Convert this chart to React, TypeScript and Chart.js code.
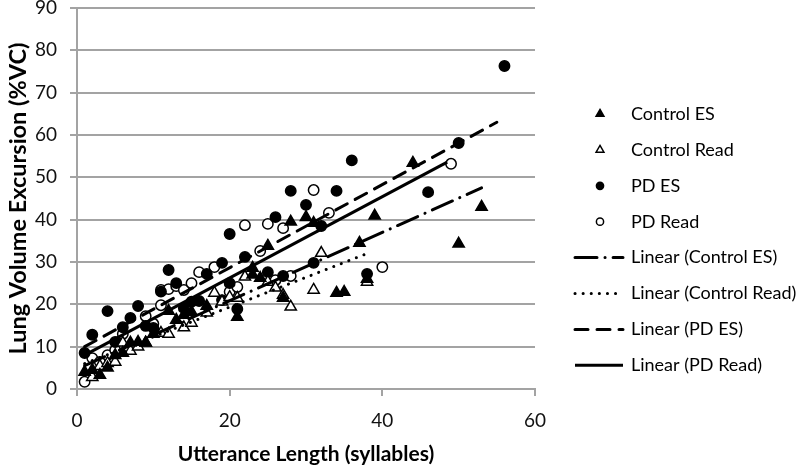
import React, { useEffect, useRef } from "react";
import { Chart, registerables } from "chart.js";
Chart.register(...registerables);

// ---- data (x = utterance length in syllables, y = %VC) ----
const controlES: [number, number][] = [
  [1, 4], [2, 4.5], [3, 3.3], [4, 5], [5, 8], [6, 8.5], [7, 10.9], [8, 11.1], [9, 10.9],
  [10, 13], [12, 18.4], [13, 16.3], [14, 17.5], [15, 18.2], [17, 19.6], [21, 17],
  [23, 28.6], [23, 27], [24, 26.2], [25, 33.8], [27, 21.5], [28, 39.5], [30, 40.6],
  [31, 39.2], [34, 22.7], [35, 22.9], [37, 34.5], [38, 26], [39, 40.9], [44, 53.4],
  [50, 34.3], [53, 43],
];
const controlRead: [number, number][] = [
  [2, 2.8], [3, 5.4], [4, 6.1], [5, 6.4], [6, 10.9], [7, 9], [8, 10], [9, 10.9],
  [11, 13.2], [12, 13], [14, 14.5], [15, 15.6], [17, 18], [18, 22.7], [19, 20.6],
  [20, 21.7], [21, 21.5], [22, 26.5], [25, 25.3], [26, 23.9], [27, 22.2], [28, 19.4],
  [31, 23.4], [32, 32.1], [38, 25.3],
];
const pdES: [number, number][] = [
  [1, 8.5], [2, 12.8], [4, 18.4], [5, 11.1], [6, 14.6], [7, 16.8], [8, 19.6], [9, 14.9],
  [10, 14.4], [11, 23], [12, 28.1], [13, 25], [14, 19.1], [15, 20.6], [16, 20.8],
  [17, 27.2], [19, 29.8], [19, 21], [20, 25], [20, 36.6], [21, 18.9], [22, 31.2],
  [25, 27.6], [26, 40.6], [27, 26.7], [28, 46.8], [30, 43.5], [31, 29.8], [32, 38.5],
  [34, 46.8], [36, 54], [38, 27.2], [46, 46.5], [50, 58.1], [56, 76.3],
];
const pdRead: [number, number][] = [
  [1, 1.7], [2, 7.3], [3, 6.4], [4, 8], [5, 9.2], [6, 13], [9, 17.2], [10, 15.4],
  [11, 19.8], [11, 23.4], [12, 23.6], [13, 24.3], [14, 23.4], [15, 25], [16, 27.6],
  [18, 28.8], [20, 23], [21, 24.1], [22, 38.7], [24, 32.6], [25, 39], [26, 25.7],
  [27, 38], [28, 26.7], [31, 47], [33, 41.6], [40, 28.8], [49, 53.2],
];
// trend line end points
const trendControlES: [number, number][] = [[1, 5.5], [53, 47.5]];
const trendControlRead: [number, number][] = [[1, 6], [38, 32]];
const trendPdES: [number, number][] = [[1, 10], [55, 63]];
const trendPdRead: [number, number][] = [[1, 8], [48.5, 53.6]];

const legendLabels = [
  "Control ES", "Control Read", "PD ES", "PD Read",
  "Linear (Control ES)", "Linear (Control Read)", "Linear (PD ES)", "Linear (PD Read)",
];
const xTitle = "Utterance Length (syllables)";
const yTitle = "Lung Volume Excursion (%VC)";

const FONT = "Lato, 'Open Sans', sans-serif";
const GRID = "#a3a3a3";

const pts = (a: [number, number][]) => a.map(([x, y]) => ({ x, y }));

const dashes: number[][] = [[22, 8, 0.1, 8], [0.1, 8], [13, 9], []];

const legendPlugin = {
  id: "customLegend",
  afterDraw(chart: any) {
    const ctx = chart.ctx as CanvasRenderingContext2D;
    ctx.save();
    const x0 = 600;
    const tx = 631;
    const y0 = 114;
    const step = 35.9;
    ctx.font = `18px ${FONT}`;
    ctx.textBaseline = "middle";
    ctx.fillStyle = "#000";
    legendLabels.forEach((lab, i) => {
      const y = y0 + i * step;
      ctx.strokeStyle = "#000";
      ctx.fillStyle = "#000";
      if (i < 4) {
        const filled = i % 2 === 0;
        ctx.lineWidth = 1.5;
        ctx.beginPath();
        if (i < 2) {
          const r = 4.5;
          ctx.moveTo(x0, y - r);
          ctx.lineTo(x0 + r * 0.87, y + r * 0.5);
          ctx.lineTo(x0 - r * 0.87, y + r * 0.5);
          ctx.closePath();
        } else {
          ctx.arc(x0, y, 3.6, 0, Math.PI * 2);
        }
        ctx.fillStyle = filled ? "#000" : "#fff";
        ctx.fill();
        ctx.stroke();
      } else {
        const d = dashes[i - 4];
        ctx.lineWidth = 3;
        ctx.lineCap = d.length === 2 || d.length === 4 ? "round" : "butt";
        ctx.setLineDash(d);
        ctx.beginPath();
        ctx.moveTo(575, y);
        ctx.lineTo(623, y);
        ctx.stroke();
        ctx.setLineDash([]);
      }
      ctx.fillStyle = "#000";
      ctx.fillText(lab, tx, y);
    });
    ctx.restore();
  },
};

export default function App() {
  const ref = useRef<HTMLCanvasElement>(null);
  useEffect(() => {
    document.body.style.margin = "0";
    const scatter = (label: string, data: [number, number][], style: string, filled: boolean) => ({
      type: "scatter" as const,
      label,
      data: pts(data),
      pointStyle: style,
      pointRadius: style === "triangle" ? 6.5 : 5.2,
      pointBackgroundColor: filled ? "#000" : "#fff",
      pointBorderColor: "#000",
      pointBorderWidth: 1.5,
      showLine: false,
      order: 2,
    });
    const trend = (label: string, data: [number, number][], dash: number[]) => ({
      type: "line" as const,
      label,
      data: pts(data),
      borderColor: "#000",
      borderWidth: 3,
      borderDash: dash,
      borderCapStyle: (dash.length === 2 || dash.length === 4 ? "round" : "butt") as CanvasLineCap,
      pointRadius: 0,
      fill: false,
      order: 1,
    });
    const chart = new Chart(ref.current!, {
      type: "scatter",
      data: {
        datasets: [
          scatter(legendLabels[0], controlES, "triangle", true),
          scatter(legendLabels[1], controlRead, "triangle", false),
          scatter(legendLabels[2], pdES, "circle", true),
          scatter(legendLabels[3], pdRead, "circle", false),
          trend(legendLabels[4], trendControlES, dashes[0]),
          trend(legendLabels[5], trendControlRead, dashes[1]),
          trend(legendLabels[6], trendPdES, dashes[2]),
          trend(legendLabels[7], trendPdRead, dashes[3]),
        ] as any,
      },
      options: {
        responsive: false,
        animation: false,
        layout: { padding: { left: 0, top: 8, right: 265, bottom: 0 } },
        plugins: { legend: { display: false }, tooltip: { enabled: false } },
        scales: {
          x: {
            type: "linear",
            min: 0,
            max: 60,
            afterFit: (s: any) => { s.height = 80; s.paddingLeft = 0; s.paddingRight = 0; },
            ticks: { stepSize: 20, padding: 13, color: "#111", font: { family: FONT, size: 19 } },
            grid: { drawOnChartArea: false, drawTicks: true, tickLength: 7, color: GRID, lineWidth: 2 },
            border: { display: true, color: GRID, width: 2 },
            title: {
              display: true, text: xTitle, color: "#000",
              font: { family: FONT, size: 21, weight: "bold" },
              padding: { top: 0, bottom: 2 },
            },
          },
          y: {
            type: "linear",
            min: 0,
            max: 90,
            afterFit: (s: any) => { s.width = 77; s.paddingTop = 0; s.paddingBottom = 0; },
            ticks: { stepSize: 10, padding: 13, color: "#111", font: { family: FONT, size: 19 } },
            grid: { drawTicks: true, tickLength: 7, color: GRID, lineWidth: 2 },
            border: { display: true, color: GRID, width: 2 },
            title: {
              display: true, text: yTitle, color: "#000",
              font: { family: FONT, size: 23.5, weight: "bold" },
              padding: { top: 4, bottom: 0 },
            },
          },
        },
      },
      plugins: [legendPlugin],
    });
    return () => chart.destroy();
  }, []);
  return (
    <div style={{ width: 800, height: 469, background: "#fff" }}>
      <canvas ref={ref} width={800} height={469} />
    </div>
  );
}
